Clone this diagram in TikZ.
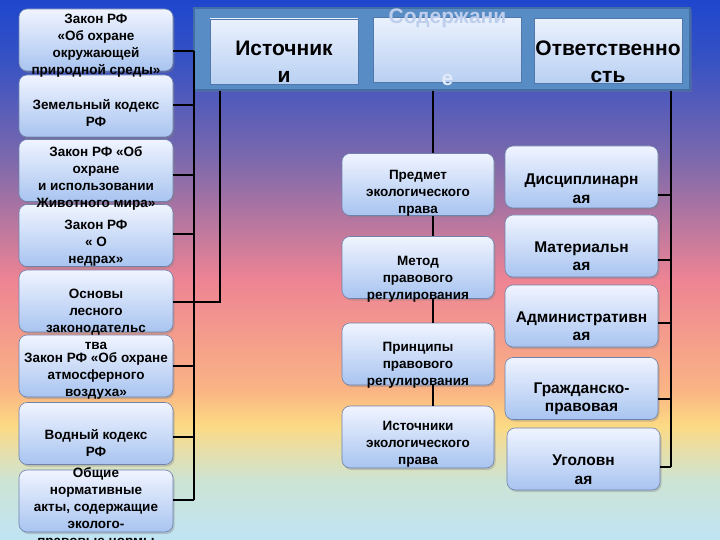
\documentclass[tikz,border=0pt]{standalone}
\usepackage{fontspec}
\setmainfont{Liberation Sans}
\usetikzlibrary{shadows}

\definecolor{sky0}{RGB}{30,70,205}
\definecolor{sky1}{RGB}{55,82,195}
\definecolor{sky2}{RGB}{125,105,172}
\definecolor{sky3}{RGB}{238,132,148}
\definecolor{sky4}{RGB}{250,180,132}
\definecolor{sky5}{RGB}{252,218,132}
\definecolor{sky6}{RGB}{205,228,212}
\definecolor{sky7}{RGB}{192,228,245}
\definecolor{boxtop}{RGB}{240,244,255}
\definecolor{boxbot}{RGB}{168,196,240}
\definecolor{boxedge}{RGB}{110,130,172}
\definecolor{htop}{RGB}{234,241,253}
\definecolor{hbot}{RGB}{185,208,242}
\definecolor{hedge}{RGB}{80,120,172}
\definecolor{panelfill}{RGB}{88,140,196}
\definecolor{paneledge}{RGB}{66,110,165}
\definecolor{sodtext}{RGB}{190,206,236}
\definecolor{sodlight}{RGB}{226,233,248}

\tikzset{
  conn/.style={line width=2pt},
  lbox/.style={draw=boxedge, line width=.6pt, rounded corners=8pt,
    top color=boxtop, bottom color=boxbot, minimum width=154pt,
    minimum height=62pt,
    drop shadow={shadow xshift=1.5pt, shadow yshift=-2pt, opacity=.35}},
  ltext/.style={font=\bfseries\fontsize{13.5}{17}\selectfont, align=center, inner sep=0pt},
  rtext/.style={font=\bfseries\fontsize{15.5}{18.5}\selectfont, align=center, inner sep=0pt},
  hbox/.style={draw=hedge, line width=.6pt, top color=htop, bottom color=hbot,
    minimum width=148pt, minimum height=65pt},
  htext/.style={font=\bfseries\fontsize{21}{27}\selectfont, align=center, inner sep=0pt}
}

\begin{document}
\begin{tikzpicture}[x=1pt,y=-1pt]
\useasboundingbox (0,0) rectangle (720,540);
\clip (0,0) rectangle (720,540);

\shade[top color=sky0, bottom color=sky1] (0,0) rectangle (720,60.5);
\shade[top color=sky1, bottom color=sky2] (0,60) rectangle (720,160.5);
\shade[top color=sky2, bottom color=sky3] (0,160) rectangle (720,280.5);
\shade[top color=sky3, bottom color=sky4] (0,280) rectangle (720,390.5);
\shade[top color=sky4, bottom color=sky5] (0,390) rectangle (720,425.5);
\shade[top color=sky5, bottom color=sky6] (0,425) rectangle (720,480.5);
\shade[top color=sky6, bottom color=sky7] (0,480) rectangle (720,540);

\node[draw=paneledge, line width=1.5pt, fill=panelfill, minimum width=496pt,
  minimum height=82pt, inner sep=0pt,
  drop shadow={shadow xshift=1.5pt, shadow yshift=-2pt, opacity=.3}] (head) at (442,49) {};
\node[hbox] (ist) at (284,51.5) {};
\node[hbox] (sod) at (447.5,50) {};
\node[hbox] (otv) at (608,51) {};
\node[htext] (ist-t) at ([yshift=-10pt]ist.center) {Источник\\и};
\node[htext, text=sodtext] (sod-t) at ([yshift=3pt]sod.center) {Содержани\\[35pt]{\color{sodlight}е}};
\node[htext] (otv-t) at ([yshift=-11pt]otv.center) {Ответственно\\сть};

\foreach \n/\y/\t/\s in {
  z8/501/6.5pt/{Общие\\нормативные\\акты, содержащие\\эколого-\\правовые нормы},
  z7/433.5/9.5pt/{Водный кодекс\\РФ},
  z6/366/10pt/{Закон РФ «Об охране\\атмосферного\\воздуха»},
  z5/301/18pt/{Основы\\лесного\\законодательс\\тва},
  z4/235.5/8pt/{Закон РФ\\« О\\недрах»},
  z3/170.5/8pt/{Закон РФ «Об\\охране\\и использовании\\Животного мира»},
  z2/106/7.5pt/{Земельный кодекс\\РФ},
  z1/40/5.5pt/{Закон РФ\\«Об охране\\окружающей\\природной среды»}}
{
  \node[lbox] (\n) at (96,\y) {};
  \node[ltext] (\n-t) at ([yshift=-\t]\n.center) {\s};
}

\foreach \n/\y/\t/\s in {
  m1/184.5/9pt/{Предмет\\экологического\\права},
  m2/267.5/11.5pt/{Метод\\правового\\регулирования},
  m3/354/11.5pt/{Принципы\\правового\\регулирования},
  m4/437/7.5pt/{Источники\\экологического\\права}}
{
  \node[lbox, minimum width=152pt] (\n) at (418,\y) {};
  \node[ltext] (\n-t) at ([yshift=-\t]\n.center) {\s};
}

\foreach \n/\x/\y/\t/\s in {
  r1/581.5/177/11.5pt/{Дисциплинарн\\ая},
  r2/581.5/246/10pt/{Материальн\\ая},
  r3/581.5/316/10pt/{Административн\\ая},
  r4/581.5/388.5/10.5pt/{Гражданско-\\правовая},
  r5/583.5/459/10.5pt/{Уголовн\\ая}}
{
  \node[lbox, minimum width=153pt] (\n) at (\x,\y) {};
  \node[rtext] (\n-t) at ([yshift=-\t]\n.center) {\s};
}

\coordinate (lbus) at (194,0);
\coordinate (ibus) at (220,0);
\coordinate (mbus) at (433,0);
\coordinate (rbus) at (671,0);

\draw[conn] ([yshift=-11pt]z1.east -| lbus) -- ([yshift=1pt]z8.east -| lbus);
\foreach \n/\d in {z1/-11pt,z2/1pt,z3/-4.5pt,z4/1.5pt,z6/0pt,z7/-3.5pt,z8/1pt}
  \draw[conn] ([yshift=\d]\n.east) -- ([yshift=\d]\n.east -| lbus);
\draw[conn] (head.south -| ibus) -- ([yshift=-1pt]z5.east -| ibus) -- ([yshift=-1pt]z5.east);

\draw[conn] (head.south -| mbus) -- (m1.north -| mbus);
\foreach \a/\b in {m1/m2,m2/m3,m3/m4}
  \draw[conn] (\a.south -| mbus) -- (\b.north -| mbus);

\draw[conn] (head.south -| rbus) -- ([yshift=-8pt]r5.east -| rbus);
\foreach \n/\d in {r1/-18pt,r2/-14pt,r3/-7pt,r4/-10.5pt,r5/-8pt}
  \draw[conn] ([yshift=\d]\n.east) -- ([yshift=\d]\n.east -| rbus);

\end{tikzpicture}
\end{document}
